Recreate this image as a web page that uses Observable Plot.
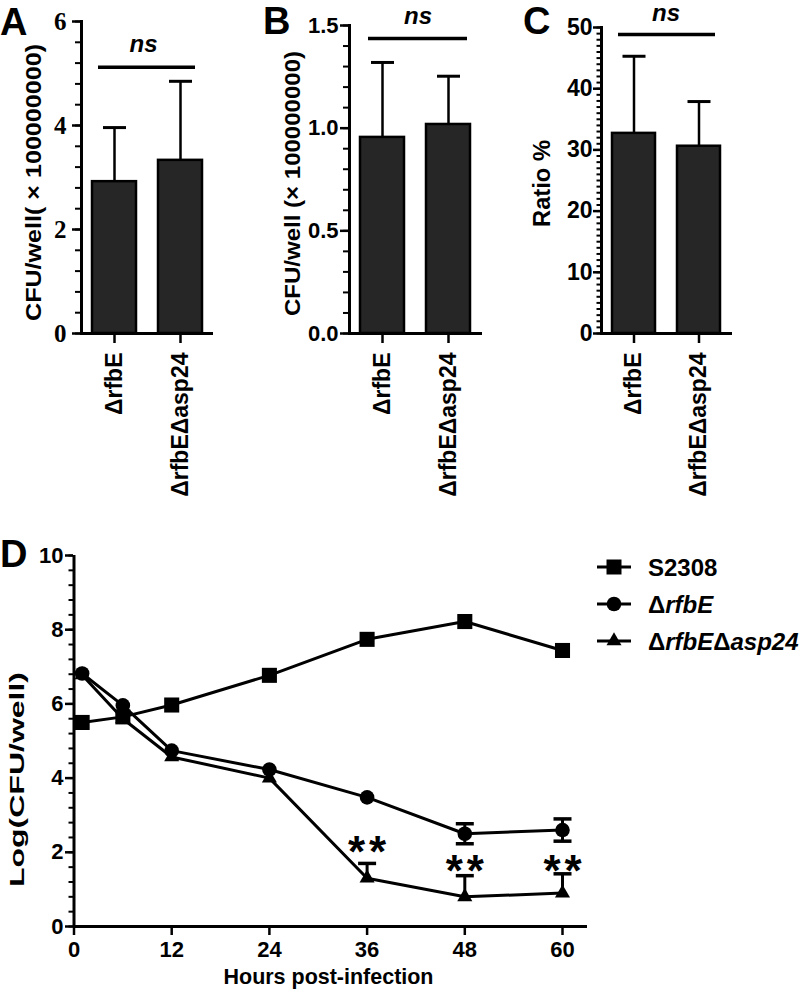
<!DOCTYPE html>
<html><head><meta charset="utf-8">
<script src="https://cdn.jsdelivr.net/npm/d3@7"></script>
<script src="https://cdn.jsdelivr.net/npm/@observablehq/plot@0.6"></script>
<style>
html,body{margin:0;padding:0;background:#fff;}
#fig{position:relative;width:800px;height:994px;overflow:hidden;background:#fff;}
</style></head><body><div id="fig"></div>
<script>
// ---------------- data ----------------
const categories = ["ΔrfbE", "ΔrfbEΔasp24"];
const meanA = [2.92, 3.33];
const sdA = [1.04, 1.52];
const meanB = [0.955, 1.018];
const sdB = [0.365, 0.235];
const meanC = [32.7, 30.6];
const sdC = [12.6, 7.3];
const ticksA = [0, 2, 4, 6];
const ticksB = [0, 0.5, 1.0, 1.5];
const ticksC = [0, 10, 20, 30, 40, 50];

const seriesNames = ["S2308", "ΔrfbE", "ΔrfbEΔasp24"];
const hours = [1, 6, 12, 24, 36, 48, 60];
const s2308 = [5.5, 5.65, 5.97, 6.77, 7.74, 8.22, 7.44];
const rfbE = [6.82, 5.96, 4.74, 4.23, 3.48, 2.5, 2.6];
const rfbEErr = [0, 0, 0, 0, 0, 0.27, 0.3];
const rfbEasp = [6.78, 5.6, 4.57, 4.0, 1.3, 0.8, 0.9];
const rfbEaspErr = [0, 0, 0, 0, 0.4, 0.57, 0.52];
const sigHours = [36, 48, 60];
const sigLevel = [2.26, 1.73, 1.73];
const ticksDy = [0, 2, 4, 6, 8, 10];
const ticksDx = [0, 12, 24, 36, 48, 60];

// ---------------- helpers ----------------
const FONT = "'Liberation Sans', Arial, Helvetica, sans-serif";
const SERIF = "'Liberation Serif', 'Times New Roman', serif";
const fig = document.getElementById("fig");
function place(el, left, top) {
  el.style.position = "absolute";
  el.style.left = left + "px";
  el.style.top = top + "px";
  fig.appendChild(el);
}
function fit(root, txt, len, adjust = "spacingAndGlyphs") {
  root.querySelectorAll("text").forEach(t => {
    if (t.textContent === txt) {
      t.setAttribute("textLength", len);
      t.setAttribute("lengthAdjust", adjust);
    }
  });
}
const cap = {draw(ctx, size) { const r = Math.sqrt(size / Math.PI); ctx.moveTo(-r, 0); ctx.lineTo(r, 0); }};
const style = {background: "transparent", overflow: "visible", fontFamily: FONT, color: "black"};

function barPanel(cfg) {
  const rows = categories.map((c, i) => ({cat: c, mean: cfg.mean[i], sd: cfg.sd[i]}));
  const p = Plot.plot({
    width: cfg.width, height: 500,
    marginLeft: cfg.ml, marginRight: cfg.mr, marginTop: cfg.mt, marginBottom: 167,
    style,
    x: {type: "band", domain: categories, range: cfg.xr, paddingInner: 1/3, paddingOuter: 0, label: null},
    y: {domain: cfg.yd, label: null},
    marks: [
      Plot.barY(rows, {x: "cat", y: "mean", fill: "#262626", stroke: "black", strokeWidth: 2.5}),
      Plot.ruleX(rows, {x: "cat", y1: "mean", y2: d => d.mean + d.sd, strokeWidth: 2.5}),
      Plot.dot(rows, {x: "cat", y: d => d.mean + d.sd, symbol: cap, r: 11.5, stroke: "black", fill: "none", strokeWidth: 3}),
      Plot.ruleY([0], {strokeWidth: 3}),
      Plot.frame({anchor: "left", strokeWidth: 3}),
      Plot.axisY({ticks: cfg.minor, tickSize: cfg.minorSize, tickFormat: () => "", strokeWidth: 2, label: null}),
      Plot.axisY({ticks: cfg.major, tickSize: cfg.tickSize, tickPadding: cfg.tickPad, tickFormat: cfg.fmt,
        fontSize: cfg.tickFont, fontWeight: "bold", fontFamily: cfg.tickFamily, strokeWidth: 2.5, label: null}),
      Plot.axisX({tickRotate: -90, tickSize: 10, tickPadding: 9, fontSize: 23, fontWeight: "bold", strokeWidth: 2.5, label: null}),
      Plot.ruleY([cfg.nsLine], {insetLeft: cfg.nsIL, insetRight: cfg.nsIR, strokeWidth: 3.5}),
      Plot.text([{t: "ns", y: cfg.nsText}], {text: "t", y: "y", frameAnchor: "middle", dx: cfg.nsDx,
        textAnchor: "middle", lineAnchor: "middle", fontSize: 24, fontWeight: "bold", fontStyle: "italic"}),
      Plot.text([cfg.title], {text: d => d, frameAnchor: "left", textAnchor: "middle", lineAnchor: "middle",
        rotate: -90, dx: cfg.tdx, dy: cfg.tdy, fontSize: cfg.tfs, fontWeight: "bold"})
    ]
  });
  fit(p, cfg.title, cfg.tlen);
  return p;
}

// ---------------- panels A, B, C ----------------
place(barPanel({
  mean: meanA, sd: sdA, width: 260, ml: 81, mr: 47, mt: 21, xr: [92, 202], yd: [0, 6],
  major: ticksA, minor: d3.range(0, 16).map(i => i * 0.4), minorSize: 6,
  tickSize: 9, tickPad: 6, fmt: d => String(d), tickFont: 25, tickFamily: SERIF,
  nsLine: 5.12, nsIL: 17, nsIR: 18, nsText: 5.57, nsDx: -4,
  title: "CFU/well( × 100000000)", tdx: -48, tdy: 5, tfs: 22, tlen: 277
}), 0, 0);

place(barPanel({
  mean: meanB, sd: sdB, width: 260, ml: 89, mr: 38, mt: 25, xr: [100, 210], yd: [0, 1.5],
  major: ticksB, minor: d3.range(0, 16).map(i => i / 10), minorSize: 6,
  tickSize: 9, tickPad: 2, fmt: d3.format(".1f"), tickFont: 22, tickFamily: FONT,
  nsLine: 1.437, nsIL: 19, nsIR: 15, nsText: 1.546, nsDx: 2,
  title: "CFU/well (× 100000000)", tdx: -57, tdy: 4, tfs: 22, tlen: 265
}), 260, 0);

place(barPanel({
  mean: meanC, sd: sdC, width: 280, ml: 81, mr: 68, mt: 27, xr: [92, 201], yd: [0, 50],
  major: ticksC, minor: d3.range(0, 51), minorSize: 4.5,
  tickSize: 8, tickPad: 1, fmt: d => String(d), tickFont: 23, tickFamily: FONT,
  nsLine: 48.86, nsIL: 17, nsIR: 17, nsText: 52.3, nsDx: -1,
  title: "Ratio %", tdx: -59, tdy: 3, tfs: 24, tlen: 87
}), 520, 0);

// ---------------- panel D ----------------
const rowsS = hours.map((h, i) => ({hour: h, v: s2308[i]}));
const rowsE = hours.map((h, i) => ({hour: h, v: rfbE[i], e: rfbEErr[i]}));
const rowsEA = hours.map((h, i) => ({hour: h, v: rfbEasp[i], e: rfbEaspErr[i]}));
const errE = rowsE.filter(d => d.e > 0);
const errEA = rowsEA.filter(d => d.e > 0);
const sig = sigHours.map((h, i) => ({hour: h, y: sigLevel[i]}));

const pD = Plot.plot({
  width: 800, height: 474, marginLeft: 73, marginRight: 213, marginTop: 35, marginBottom: 68,
  style,
  x: {domain: [0, 60], range: [73.5, 562], label: null},
  y: {domain: [0, 10], label: null},
  marks: [
    Plot.axisY({ticks: d3.range(0, 26).map(i => i * 0.4), tickSize: 4.5, tickFormat: () => "", strokeWidth: 2, label: null}),
    Plot.axisY({ticks: ticksDy, tickSize: 8, tickPadding: 2, fontSize: 22, fontWeight: "bold", strokeWidth: 2.5, label: null}),
    Plot.axisX({ticks: ticksDx, tickSize: 9, tickPadding: 6, fontSize: 22, fontWeight: "bold", strokeWidth: 2.5, label: null}),
    Plot.ruleY([0], {strokeWidth: 3}),
    Plot.ruleX([0], {strokeWidth: 3}),
    Plot.line(rowsS, {x: "hour", y: "v", strokeWidth: 3}),
    Plot.line(rowsE, {x: "hour", y: "v", strokeWidth: 3}),
    Plot.line(rowsEA, {x: "hour", y: "v", strokeWidth: 3}),
    Plot.ruleX(errE, {x: "hour", y1: d => d.v - d.e, y2: d => d.v + d.e, strokeWidth: 3}),
    Plot.dot(errE, {x: "hour", y: d => d.v + d.e, symbol: cap, r: 9, stroke: "black", fill: "none", strokeWidth: 3.5}),
    Plot.dot(errE, {x: "hour", y: d => d.v - d.e, symbol: cap, r: 9, stroke: "black", fill: "none", strokeWidth: 3.5}),
    Plot.ruleX(errEA, {x: "hour", y1: "v", y2: d => d.v + d.e, strokeWidth: 3}),
    Plot.dot(errEA, {x: "hour", y: d => d.v + d.e, symbol: cap, r: 9, stroke: "black", fill: "none", strokeWidth: 3.5}),
    Plot.dot(rowsS, {x: "hour", y: "v", symbol: "square", r: 8.5, fill: "black"}),
    Plot.dot(rowsE, {x: "hour", y: "v", symbol: "circle", r: 7.3, fill: "black"}),
    Plot.dot(rowsEA, {x: "hour", y: "v", symbol: "triangle", r: 5.6, fill: "black"}),
    Plot.text(sig, {x: "hour", y: "y", text: () => "**", fontSize: 44, fontWeight: "bold", dy: 10,
      textAnchor: "middle", lineAnchor: "middle"}),
    Plot.text(["Log(CFU/well)"], {text: d => d, frameAnchor: "left", textAnchor: "middle", lineAnchor: "middle",
      rotate: -90, dx: -56, dy: 38.5, fontSize: 21, fontWeight: "bold"}),
    Plot.text(["Hours post-infection"], {text: d => d, frameAnchor: "bottom", textAnchor: "middle", lineAnchor: "middle",
      dx: -2, dy: 50, fontSize: 22, fontWeight: "bold"})
  ]
});
fit(pD, "Log(CFU/well)", 215);
fit(pD, "Hours post-infection", 210);
fit(pD, "**", 38, "spacing");
place(pD, 0, 520);

// ---------------- overlay: panel letters + legend ----------------
const ov = d3.create("svg").attr("width", 800).attr("height", 994)
  .style("font-family", FONT).style("pointer-events", "none");
[["A", 0, 35], ["B", 263, 34], ["C", 523, 34], ["D", 0, 567]].forEach(([t, x, y]) =>
  ov.append("text").attr("x", x).attr("y", y).attr("font-size", 38).attr("font-weight", "bold").text(t));

const legSymbols = [d3.symbolSquare, d3.symbolCircle, d3.symbolTriangle];
const legSizes = [15 * 15, Math.PI * 7.3 * 7.3, 0.433 * 15 * 15];
const legY = [567, 604, 641];
seriesNames.forEach((name, i) => {
  const g = ov.append("g");
  g.append("line").attr("x1", 597).attr("x2", 631).attr("y1", legY[i]).attr("y2", legY[i])
    .attr("stroke", "black").attr("stroke-width", 3);
  g.append("path").attr("transform", `translate(614,${legY[i]})`)
    .attr("d", d3.symbol(legSymbols[i], legSizes[i])()).attr("fill", "black");
  const t = g.append("text").attr("x", 648).attr("y", legY[i] + 8.5)
    .attr("font-size", 24).attr("font-weight", "bold");
  name.split(/(Δ)/).filter(s => s).forEach(part => {
    t.append("tspan").attr("font-style", (part === "Δ" || name === "S2308") ? "normal" : "italic").text(part);
  });
});
place(ov.node(), 0, 0);
</script>
</body></html>
